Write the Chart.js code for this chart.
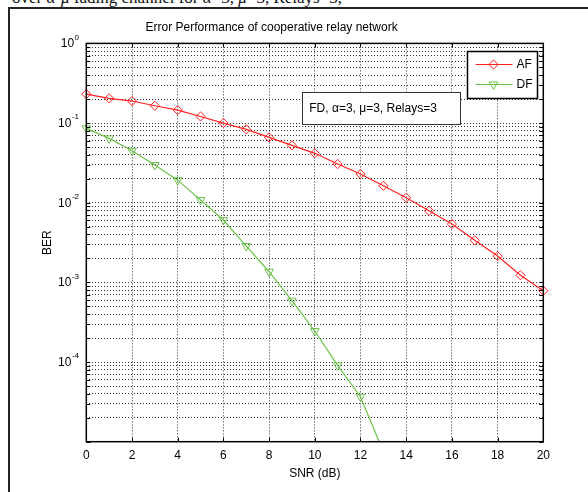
<!DOCTYPE html>
<html>
<head>
<meta charset="utf-8">
<script src="https://cdn.jsdelivr.net/npm/chart.js@4.4.0/dist/chart.umd.min.js"></script>
<style>
    html, body { margin: 0; padding: 0; width: 588px; height: 492px; overflow: hidden; background: #fff; }
    #wrap { position: relative; width: 588px; height: 492px; overflow: hidden; }
    #chart { position: absolute; left: 0; top: 0; }
    #caption { position: absolute; left: 12px; top: -12px; font-family: 'Liberation Serif', 'Times New Roman', serif; font-size: 17px; white-space: nowrap; color: #111; }
    #frame { position: absolute; left: 8px; top: 7px; width: 620px; height: 520px; border-left: 2px solid #222; border-top: 2px solid #222; }
</style>
</head>
<body>
<div id="wrap">
    <div id="caption">over <i>α</i>-<i>μ</i> fading channel for <i>α</i>=3, <i>μ</i>=3, Relays=3,</div>
    <div id="frame"></div>
    <canvas id="chart" width="588" height="492"></canvas>
</div>
<script>
const snr = [0, 1, 2, 3, 4, 5, 6, 7, 8, 9, 10, 11, 12, 13, 14, 15, 16, 17, 18, 19, 20];
const afBer = [0.231, 0.204, 0.189, 0.165, 0.1455, 0.121, 0.100, 0.0833, 0.0661, 0.0525, 0.0417,
               0.0306, 0.0229, 0.0163, 0.01154, 0.00793, 0.0054, 0.00337, 0.00214, 0.00123, 0.000785];
const dfBer = [0.0858, 0.0642, 0.0449, 0.0297, 0.0192, 0.0108, 0.00606, 0.00286, 0.00136,
               0.000589, 0.000245, 0.000091, 0.0000367, 0.0000075];
const seriesNames = ['AF', 'DF'];
const yDecades = [-5, -4, -3, -2, -1, 0];
const yLabelDecades = [-4, -3, -2, -1, 0];
const noteText = 'FD, α=3, μ=3, Relays=3';

const FONT = "'Liberation Sans', Arial, Helvetica, sans-serif";
Chart.defaults.font.family = FONT;
Chart.defaults.color = '#000';

function toPoints(values) {
    return values.map((v, i) => ({ x: snr[i], y: v }));
}

function marker(ctx, style, rotation, radius, x, y) {
    if (Chart.helpers && Chart.helpers.drawPoint) {
        Chart.helpers.drawPoint(ctx, { pointStyle: style, rotation: rotation, radius: radius, borderWidth: 1 }, x, y);
        return;
    }
    ctx.beginPath();
    if (style === 'rectRot') {
        ctx.moveTo(x, y - radius); ctx.lineTo(x + radius, y);
        ctx.lineTo(x, y + radius); ctx.lineTo(x - radius, y);
    } else {
        const h = radius * 0.866;
        ctx.moveTo(x - h, y - radius / 2); ctx.lineTo(x + h, y - radius / 2); ctx.lineTo(x, y + radius);
    }
    ctx.closePath();
    ctx.stroke();
}

// box, inner ticks, y labels with exponents, note box and legend
const decorPlugin = {
    id: 'decor',
    afterDatasetsDraw(chart) {
        const ctx = chart.ctx;
        const area = chart.chartArea;
        const xs = chart.scales.x;
        const ys = chart.scales.y;
        ctx.save();

        // inner tick marks
        ctx.strokeStyle = '#000';
        ctx.lineWidth = 1;
        ctx.beginPath();
        ys.ticks.forEach(t => {
            const py = Math.round(ys.getPixelForValue(t.value)) + 0.5;
            ctx.moveTo(area.left, py); ctx.lineTo(area.left + 4, py);
            ctx.moveTo(area.right, py); ctx.lineTo(area.right - 4, py);
        });
        xs.ticks.forEach(t => {
            const px = Math.round(xs.getPixelForValue(t.value)) + 0.5;
            ctx.moveTo(px, area.bottom); ctx.lineTo(px, area.bottom - 4);
            ctx.moveTo(px, area.top); ctx.lineTo(px, area.top + 4);
        });
        ctx.stroke();

        // axes box
        ctx.lineWidth = 1.5;
        ctx.strokeRect(area.left, area.top, area.right - area.left, area.bottom - area.top);

        // y labels 10^n
        ctx.fillStyle = '#000';
        ctx.textBaseline = 'middle';
        yLabelDecades.forEach(d => {
            const py = ys.getPixelForValue(Math.pow(10, d));
            const exp = String(d);
            ctx.font = '8px ' + FONT;
            const ew = ctx.measureText(exp).width;
            const right = 79;
            ctx.textAlign = 'left';
            ctx.fillText(exp, right - ew, py - 6);
            ctx.font = '12px ' + FONT;
            ctx.textAlign = 'right';
            ctx.fillText('10', right - ew - 0.5, py + 0.5);
        });

        // note box
        const nx0 = xs.getPixelForValue(9.43), nx1 = xs.getPixelForValue(16.35);
        const ny0 = ys.getPixelForValue(0.247), ny1 = ys.getPixelForValue(0.097);
        ctx.fillStyle = '#fff';
        ctx.fillRect(nx0, ny0, nx1 - nx0, ny1 - ny0);
        ctx.lineWidth = 1;
        ctx.strokeStyle = '#333';
        ctx.strokeRect(Math.round(nx0) + 0.5, Math.round(ny0) + 0.5, Math.round(nx1 - nx0), Math.round(ny1 - ny0));
        ctx.fillStyle = '#000';
        ctx.font = '12px ' + FONT;
        ctx.textAlign = 'left';
        ctx.textBaseline = 'middle';
        ctx.fillText(noteText, nx0 + 7.5, (ny0 + ny1) / 2 + 0.5);

        // legend box
        const lx0 = 467.5, ly0 = 51.5, lw = 70, lh = 47;
        ctx.fillStyle = '#fff';
        ctx.fillRect(lx0, ly0, lw, lh);
        ctx.strokeStyle = '#000';
        ctx.lineWidth = 1.5;
        ctx.strokeRect(lx0, ly0, lw, lh);
        chart.data.datasets.forEach((ds, i) => {
            const cy = ly0 + 13 + i * 20;
            ctx.strokeStyle = ds.borderColor;
            ctx.lineWidth = 1.2;
            ctx.beginPath();
            ctx.moveTo(lx0 + 8, cy); ctx.lineTo(lx0 + 45, cy);
            ctx.stroke();
            ctx.fillStyle = 'rgba(0,0,0,0)';
            ctx.lineWidth = 1;
            marker(ctx, ds.pointStyle, ds.pointRotation || 0, ds.pointRadius, lx0 + 26, cy);
            ctx.fillStyle = '#000';
            ctx.font = '12px ' + FONT;
            ctx.textAlign = 'left';
            ctx.textBaseline = 'middle';
            ctx.fillText(ds.label, lx0 + 49, cy + 0.5);
        });

        ctx.restore();
    }
};

const ctx = document.getElementById('chart').getContext('2d');
new Chart(ctx, {
    type: 'line',
    data: {
        datasets: [{
            label: seriesNames[0],
            data: toPoints(afBer),
            borderColor: '#ff2020',
            backgroundColor: 'rgba(0,0,0,0)',
            borderWidth: 1.2,
            pointStyle: 'rectRot',
            pointRadius: 4.6,
            pointBorderWidth: 1,
            pointBorderColor: '#ff2020',
            pointBackgroundColor: 'rgba(0,0,0,0)',
            tension: 0,
            clip: false
        }, {
            label: seriesNames[1],
            data: toPoints(dfBer),
            borderColor: '#6cc34a',
            backgroundColor: 'rgba(0,0,0,0)',
            borderWidth: 1.2,
            pointStyle: 'triangle',
            pointRotation: 180,
            pointRadius: 5,
            pointBorderWidth: 1,
            pointBorderColor: '#6cc34a',
            pointBackgroundColor: 'rgba(0,0,0,0)',
            tension: 0,
            clip: { left: false, top: false, right: false, bottom: 0 }
        }]
    },
    options: {
        responsive: false,
        animation: false,
        layout: { padding: { left: 0, right: 44.7, top: 0, bottom: 0 } },
        plugins: {
            legend: { display: false },
            tooltip: { enabled: false },
            title: {
                display: true,
                text: 'Error Performance of cooperative relay network',
                color: '#000',
                font: { size: 12, weight: 'normal' },
                padding: { top: 20, bottom: 9 }
            }
        },
        scales: {
            x: {
                type: 'linear',
                min: 0,
                max: 20,
                ticks: { stepSize: 2, font: { size: 12 }, color: '#000', padding: 7, maxRotation: 0 },
                grid: { color: 'rgba(0,0,0,0.8)', lineWidth: 1, drawTicks: false },
                border: { display: false, dash: [1, 2] },
                title: { display: true, text: 'SNR (dB)', font: { size: 12 }, color: '#000', padding: { top: 0, bottom: 10.8 } },
                afterFit(scale) { scale.height = 50.3; }
            },
            y: {
                type: 'logarithmic',
                min: 1e-5,
                max: 1,
                afterBuildTicks(scale) {
                    const t = [];
                    yDecades.forEach(d => {
                        for (let m = 1; m <= 9; m++) {
                            const v = m * Math.pow(10, d);
                            if (v <= 1.0000001) t.push({ value: v });
                        }
                    });
                    scale.ticks = t;
                },
                ticks: { display: false },
                grid: { color: 'rgba(0,0,0,0.8)', lineWidth: 1, drawTicks: false },
                border: { display: false, dash: [1, 2] },
                title: { display: true, text: 'BER', font: { size: 12 }, color: '#000', padding: { top: 40.8, bottom: 0 } },
                afterFit(scale) { scale.width = 86.3; }
            }
        }
    },
    plugins: [decorPlugin]
});
</script>
</body>
</html>
